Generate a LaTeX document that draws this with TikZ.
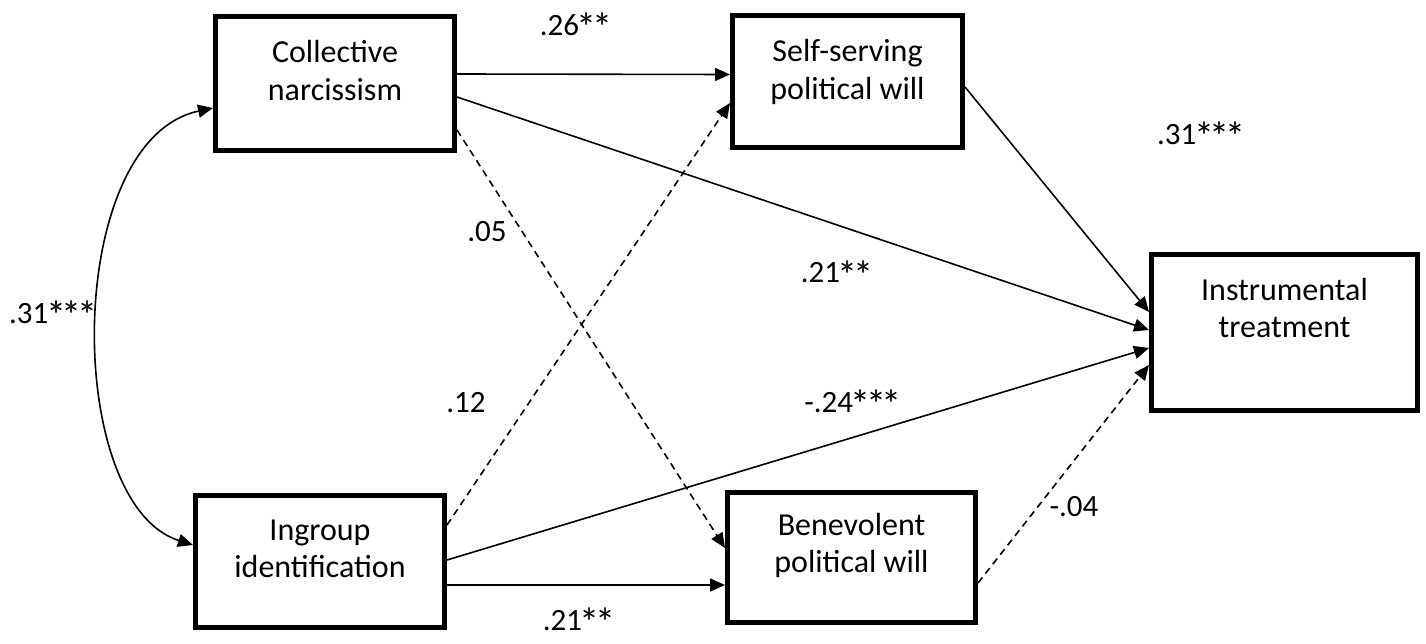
\documentclass[tikz,border=0pt]{standalone}
\usepackage{fontspec}
\setmainfont{Carlito}
\usetikzlibrary{arrows.meta}
\newcommand{\twoline}[3]{\raisebox{#1}[\height][\depth]{\begin{tabular}{@{}c@{}}#2\\#3\end{tabular}}}
\newcommand{\st}{\makebox[0.5em]{\raisebox{-6pt}{\scalebox{1.3}{*}}}}
\begin{document}
\begin{tikzpicture}[x=1pt,y=-1pt,
  varbox/.style={draw, line width=5pt, inner sep=0pt, font=\fontsize{32}{37.5}\selectfont},
  arr/.style={line width=1.6pt, -{Triangle[length=15pt,width=13pt]}},
  dbl/.style={line width=1.6pt, {Triangle[length=15pt,width=13pt]}-{Triangle[length=15pt,width=13pt]}},
  dsh/.style={dash pattern=on 7pt off 5pt},
  lbl/.style={font=\fontsize{31}{36}\selectfont, inner sep=0pt, anchor=base}]
\useasboundingbox (0,0) rectangle (1426,644);
\node[varbox, minimum width=239pt, minimum height=134pt] (cn) at (335,83.5) {\twoline{9.25pt}{Collective}{narcissism}};
\node[varbox, minimum width=230pt, minimum height=132pt] (ss) at (847.5,81.5) {\twoline{8.25pt}{Self-serving}{political will}};
\node[varbox, minimum width=266pt, minimum height=156pt] (it) at (1284.5,332.5) {\twoline{21.25pt}{Instrumental}{treatment}};
\node[varbox, minimum width=249pt, minimum height=132pt] (ig) at (320,561.5) {\twoline{10.25pt}{Ingroup}{identification}};
\node[varbox, minimum width=248pt, minimum height=130pt] (bw) at (851.5,557.5) {\twoline{11.25pt}{Benevolent}{political will}};

\draw[arr] ([yshift=9.5pt]cn.east) -- ([yshift=7pt]ss.west);
\draw[arr] ([yshift=-13.5pt]cn.east) -- ([yshift=2.5pt]it.west);
\draw[arr] ([yshift=-5.5pt]ss.east) -- ([yshift=20.5pt]it.west);
\draw[arr,dsh] ([yshift=-46.5pt]cn.east) -- ([yshift=9.5pt]bw.west);
\draw[arr,dsh] ([yshift=36.5pt]ig.east) -- ([yshift=-21.5pt]ss.west);
\draw[arr] ([yshift=1.5pt]ig.east) -- ([yshift=-15.5pt]it.west);
\draw[arr] ([yshift=-23.5pt]ig.east) -- ([yshift=-27.5pt]bw.west);
\draw[arr,dsh] ([yshift=-25.5pt]bw.east) -- ([yshift=-32.5pt]it.west);
\draw[dbl] ([yshift=-24.5pt]cn.west) .. controls (63,140) and (63,504) .. ([yshift=16.5pt]ig.west);

\node[lbl] (l1) at (575,36) {.26\st\st};
\node[lbl] (l2) at (1200,145) {.31\st\st\st};
\node[lbl] (l3) at (487,242) {.05};
\node[lbl] (l4) at (836,283) {.21\st\st};
\node[lbl] (l5) at (466,412) {.12};
\node[lbl] (l6) at (852,412) {-.24\st\st\st};
\node[lbl] (l7) at (1074,516) {-.04};
\node[lbl] (l8) at (578,630) {.21\st\st};
\node[lbl] (l9) at (52,323) {.31\st\st\st};
\end{tikzpicture}
\end{document}
